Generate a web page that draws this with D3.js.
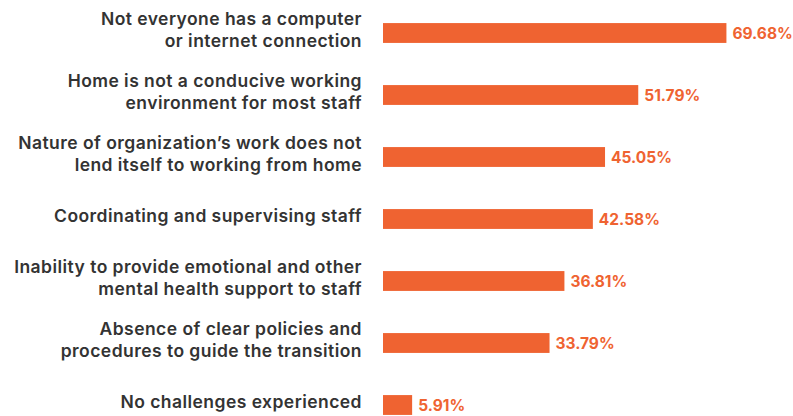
<!DOCTYPE html>
<html>
<head>
<meta charset="utf-8">
<script src="https://cdn.jsdelivr.net/npm/d3@7"></script>
<style>
  html, body { margin: 0; padding: 0; background: #ffffff; }
  svg { display: block; }
</style>
</head>
<body>
<div id="chart"></div>
<script>
// Challenges faced when moving to work from home (share of organizations)
const categories = [
  ["Not everyone has a computer", "or internet connection"],
  ["Home is not a conducive working", "environment for most staff"],
  ["Nature of organization’s work does not", "lend itself to working from home"],
  ["Coordinating and supervising staff"],
  ["Inability to provide emotional and other", "mental health support to staff"],
  ["Absence of clear policies and", "procedures to guide the transition"],
  ["No challenges experienced"]
];
const values = [69.68, 51.79, 45.05, 42.58, 36.81, 33.79, 5.91];
const valueLabels = ["69.68%", "51.79%", "45.05%", "42.58%", "36.81%", "33.79%", "5.91%"];

const width = 793, height = 416;
const barColor = "#EF6331";
const textColor = "#333333";

const svg = d3.select("#chart").append("svg")
  .attr("width", width)
  .attr("height", height);

const x = d3.scaleLinear().domain([0, 70]).range([383, 728]);

const y = d3.scaleBand()
  .domain(d3.range(categories.length))
  .range([2, 436])
  .paddingInner(0.68)
  .paddingOuter(0.34);

const rows = svg.selectAll("g.row")
  .data(values)
  .join("g")
  .attr("class", "row");

rows.append("rect")
  .attr("x", x(0))
  .attr("y", (d, i) => y(i))
  .attr("width", d => x(d) - x(0))
  .attr("height", y.bandwidth())
  .attr("fill", barColor);

rows.append("text")
  .attr("x", d => x(d) + 6)
  .attr("y", (d, i) => y(i) + y.bandwidth() / 2)
  .attr("dy", "0.36em")
  .attr("font-family", "Inter, 'Noto Sans', sans-serif")
  .attr("font-weight", 700)
  .attr("font-size", 15.5)
  .attr("fill", barColor)
  .text((d, i) => valueLabels[i]);

const lineGap = 22;
rows.append("text")
  .attr("text-anchor", "end")
  .attr("font-family", "Inter, 'Noto Sans', sans-serif")
  .attr("font-weight", 600)
  .attr("font-size", 17.5)
  .attr("letter-spacing", 0.45)
  .attr("fill", textColor)
  .each(function (d, i) {
    const lines = categories[i];
    const cy = y(i) + y.bandwidth() / 2;
    const start = cy - (lines.length - 1) * lineGap / 2 - 3;
    d3.select(this).selectAll("tspan")
      .data(lines)
      .join("tspan")
      .attr("x", 362)
      .attr("y", (t, k) => start + k * lineGap)
      .attr("dy", "0.34em")
      .text(t => t);
  });
</script>
</body>
</html>
